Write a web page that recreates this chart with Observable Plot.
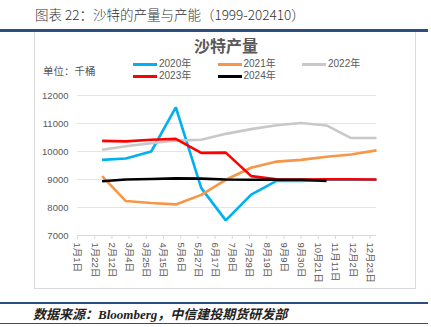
<!DOCTYPE html>
<html><head><meta charset="utf-8">
<script src="https://cdn.jsdelivr.net/npm/d3@7"></script>
<script src="https://cdn.jsdelivr.net/npm/@observablehq/plot@0.6"></script>
<style>
body{margin:0;width:431px;height:327px;position:relative;background:#fff;overflow:hidden;font-family:"Noto Sans CJK SC",sans-serif;}
.abs{position:absolute;white-space:nowrap;line-height:1;}
</style></head><body>
<script>
// ---- data ----
const years = ["2020年","2021年","2022年","2023年","2024年"];
const colors = ["#00b0f0","#f79646","#c8c8c8","#ff0000","#000000"];
const months = [1,2,3,4,5,6,7,8,9,10,11,12];
const s2020 = [9700, 9750, 10000, 11580, 8700, 7540, 8460, 8950, 8950, 8990, 8990, 8990];
const s2021 = [9120, 8230, 8160, 8110, 8450, 8990, 9420, 9640, 9700, 9810, 9890, 10040];
const s2022 = [10060, 10190, 10300, 10390, 10420, 10630, 10800, 10940, 11020, 10930, 10480, 10480];
const s2023 = [10380, 10360, 10420, 10450, 9950, 9960, 9120, 9010, 9000, 9010, 9010, 9000];
const s2024 = [8940, 9000, 9020, 9040, 9030, 9000, 8990, 8990, 8990, 8950];
const tickLabels = ["1月1日","1月22日","2月12日","3月4日","3月25日","4月15日","5月6日","5月27日","6月17日","7月8日","7月29日","8月19日","9月9日","9月30日","10月21日","11月11日","12月2日","12月23日"];
const yTicks = [7000, 8000, 9000, 10000, 11000, 12000];
const titleText = "图表 22：沙特的产量与产能（1999-202410）";
const chartTitle = "沙特产量";
const unitText = "单位：千桶";
const sourceText = "数据来源：Bloomberg，中信建投期货研发部";
// ---------------
const series = [s2020, s2021, s2022, s2023, s2024];
const Y = 2024;
const parseTick = s => { const m = s.match(/(\d+)月(\d+)日/); return new Date(Y, +m[1]-1, +m[2]); };
const tickDates = tickLabels.map(parseTick);
const labelMap = new Map(tickDates.map((d,i)=>[+d, tickLabels[i]]));
const monthEnd = m => new Date(Y, m, 0);
const rows = [];
years.forEach((yr,i)=> series[i].forEach((v,j)=> rows.push({year:yr, date: monthEnd(months[j]), value:v})));

function add(html, style){ const d=document.createElement("div"); d.className="abs"; d.style.cssText=style; d.innerHTML=html; document.body.appendChild(d); return d; }

// chart frame
add("", "left:34px;top:30px;width:382px;height:259px;border:1px solid #d9d9d9;box-sizing:border-box;");

const plot = Plot.plot({
  width:431, height:327,
  marginLeft:77, marginRight:55, marginTop:95, marginBottom:92,
  style:{fontFamily:"'Liberation Sans','Noto Sans CJK SC',sans-serif", background:"transparent", overflow:"visible"},
  x:{type:"time", domain:[new Date(Y,0,1), new Date(Y,11,31)]},
  y:{domain:[7000,12000]},
  color:{domain:years, range:colors},
  marks:[
    Plot.gridY(yTicks.slice(1), {stroke:"#e4e4e4", strokeOpacity:1, strokeWidth:1}),
    Plot.ruleY([yTicks[0]], {stroke:"#d9d9d9", strokeWidth:1}),
    Plot.axisY(yTicks, {tickSize:0, tickPadding:9, fontSize:9.5, fill:"#595959", label:null, tickFormat: d => String(d)}),
    Plot.axisX(tickDates, {tickRotate:90, tickSize:4, tickPadding:3, stroke:"#d9d9d9", fill:"#595959", fontSize:9.5, label:null, tickFormat: d => labelMap.get(+d)}),
    Plot.lineY(rows, {x:"date", y:"value", z:"year", stroke:"year", strokeWidth:2.6, strokeLinejoin:"miter", strokeLinecap:"butt"})
  ]
});
const holder = add("", "left:0;top:0;");
holder.appendChild(plot);

// header / footer
add(titleText, "left:35px;top:8px;font-size:13.5px;color:#333;font-weight:300;");
add("", "left:0;top:29px;width:428px;height:2.5px;background:#2b4f81;");
add(chartTitle, "left:176px;top:37px;width:100px;text-align:center;font-size:16px;color:#595959;font-weight:700;");
add(unitText, "left:43px;top:65.5px;font-size:10.5px;color:#595959;");
years.forEach((yr,i)=>{
  const col=i%3, row=Math.floor(i/3);
  const x=133+col*84.5, y=64+row*12;
  add("", `left:${x}px;top:${y-1.5}px;width:24px;height:3px;background:${colors[i]};`);
  add(yr, `left:${x+26}px;top:${y-5}px;font-size:10px;color:#595959;font-family:'Liberation Sans','Noto Sans CJK SC',sans-serif;`);
});
add("", "left:0;top:301.5px;width:428px;height:2.5px;background:#2b4f81;");
add(sourceText, "left:33px;top:307.5px;font-size:13px;color:#222;font-weight:bold;font-style:italic;font-family:'Liberation Serif','Noto Sans CJK SC',serif;");
add("", "left:0;top:322.5px;width:428px;height:1.5px;background:#2b4f81;");
</script>
</body></html>
